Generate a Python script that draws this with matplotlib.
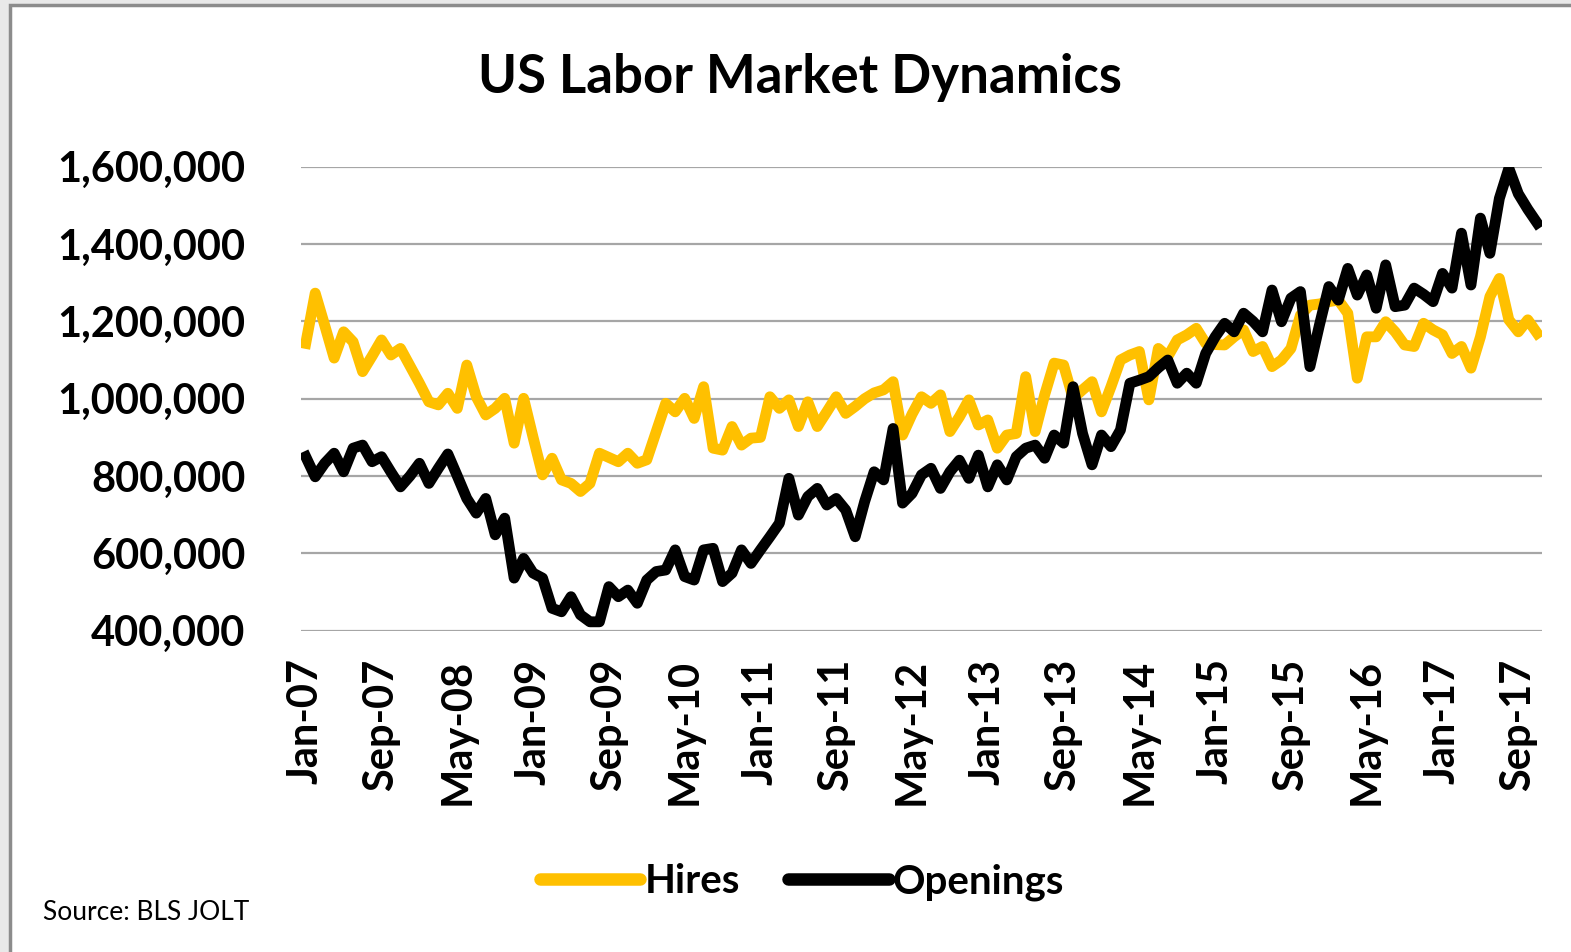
import matplotlib
matplotlib.use("Agg")
import matplotlib.pyplot as plt
from matplotlib.patches import Rectangle
from matplotlib.ticker import FuncFormatter

# monthly, Jan-07 .. Nov-17
hires = [1143, 1273, 1190, 1105, 1173, 1147, 1070, 1110, 1152, 1113,
         1130, 1085, 1040, 992, 984, 1014, 975, 1087, 1005, 958,
         975, 1001, 885, 1001, 900, 803, 846, 790, 781, 760,
         781, 859, 848, 837, 859, 833, 842, 915, 988, 966,
         1001, 949, 1031, 872, 867, 928, 880, 898, 900, 1005,
         975, 997, 928, 992, 928, 966, 1005, 962, 980, 1000,
         1015, 1023, 1044, 906, 960, 1005, 988, 1010, 915, 953,
         997, 932, 945, 872, 906, 910, 1057, 915, 1010, 1092,
         1087, 1001, 1023, 1044, 966, 1031, 1100, 1113, 1122, 997,
         1130, 1109, 1152, 1165, 1182, 1143, 1140, 1139, 1160, 1178,
         1122, 1135, 1083, 1100, 1130, 1216, 1242, 1245, 1251, 1255,
         1221, 1053, 1160, 1160, 1199, 1173, 1139, 1135, 1195, 1178,
         1165, 1117, 1135, 1079, 1160, 1264, 1311, 1204, 1173, 1204,
         1169]
openings = [850, 798, 833, 859, 811, 872, 880, 837, 850, 810,
            772, 800, 833, 781, 820, 857, 800, 742, 704, 742,
            648, 691, 536, 587, 549, 536, 458, 449, 488, 441,
            423, 423, 514, 488, 505, 471, 531, 553, 557, 609,
            540, 531, 609, 613, 527, 549, 609, 574, 609, 643,
            678, 794, 699, 747, 768, 725, 742, 712, 643, 734,
            811, 790, 923, 730, 755, 803, 820, 768, 811, 841,
            794, 854, 772, 829, 790, 850, 872, 880, 846, 906,
            885, 1031, 910, 829, 906, 876, 919, 1040, 1048, 1057,
            1080, 1100, 1040, 1066, 1040, 1117, 1160, 1195, 1173, 1221,
            1200, 1173, 1281, 1199, 1260, 1277, 1083, 1190, 1290, 1255,
            1337, 1268, 1320, 1234, 1346, 1238, 1242, 1286, 1270, 1251,
            1324, 1286, 1428, 1294, 1467, 1376, 1518, 1596, 1530, 1490,
            1454]
hires = [v * 1000 for v in hires]
openings = [v * 1000 for v in openings]

tick_labels = ["Jan-07", "Sep-07", "May-08", "Jan-09", "Sep-09", "May-10",
               "Jan-11", "Sep-11", "May-12", "Jan-13", "Sep-13", "May-14",
               "Jan-15", "Sep-15", "May-16", "Jan-17", "Sep-17"]
y_ticks = [400000, 600000, 800000, 1000000, 1200000, 1400000, 1600000]

FONT = "Lato"
GOLD = "#FFC000"

fig = plt.figure(figsize=(15.71, 9.52), dpi=100, facecolor="#e9e9e9")
# chart frame
fig.patches.append(Rectangle((10/1571, -0.05), 1.1, 1 - 5/952 + 0.05,
                             transform=fig.transFigure, facecolor="white",
                             edgecolor="#8c8c8c", linewidth=2.5, zorder=-10))

ax = fig.add_axes([301/1571, 1 - 630.7/952, 1241/1571, 464/952])
ax.set_zorder(5)
x = list(range(len(hires)))
ax.plot(x, hires, color=GOLD, lw=7.8, label="Hires", solid_joinstyle="round", zorder=3)
ax.plot(x, openings, color="black", lw=7.8, label="Openings", solid_joinstyle="round", zorder=4)

ax.set_xlim(-0.5, len(hires) - 0.5)
ax.set_ylim(400000, 1600000)
ax.set_yticks(y_ticks)
ax.yaxis.set_major_formatter(FuncFormatter(lambda v, p: f"{int(v):,}"))
ax.set_xticks(range(0, len(hires), 8))
ax.set_xticklabels(tick_labels, rotation=90, fontsize=30, fontweight="bold",
                   family=FONT)
for lab in ax.get_yticklabels():
    lab.set_fontsize(30)
    lab.set_fontweight("bold")
    lab.set_family(FONT)
ax.tick_params(axis="both", length=0)
ax.tick_params(axis="y", pad=40)
ax.tick_params(axis="x", pad=20)
ax.grid(axis="y", color="#a6a6a6", lw=1.6, zorder=0)
for s in ax.spines.values():
    s.set_visible(False)
ax.set_facecolor("none")

fig.text(800/1571, 1 - 77/952, "US Labor Market Dynamics", ha="center", va="center",
         fontsize=38, fontweight="bold", family=FONT)
fig.text(43/1571, 1 - 913/952, "Source: BLS JOLT", ha="left", va="center",
         fontsize=19, family=FONT)

leg = fig.legend(loc="center", bbox_to_anchor=(802/1571, 1 - 882/952), ncol=2,
                 frameon=False, handlelength=2.5, handletextpad=0.1,
                 columnspacing=1.2, prop={"family": FONT, "size": 29, "weight": "bold"})
for h in leg.get_lines():
    h.set_linewidth(9)
    h.set_solid_capstyle("round")

fig.savefig("out.png", dpi=100, facecolor=fig.get_facecolor())
